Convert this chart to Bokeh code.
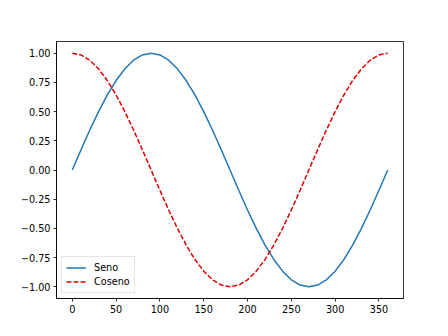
from bokeh.plotting import figure
from bokeh.models import FixedTicker, Range1d, Legend, LegendItem
from bokeh.embed import file_html
from bokeh.resources import INLINE

grados = list(range(0, 361, 10))
seno = [0.0, 0.1736, 0.3420, 0.5000, 0.6428, 0.7660, 0.8660, 0.9397, 0.9848, 1.0000,
        0.9848, 0.9397, 0.8660, 0.7660, 0.6428, 0.5000, 0.3420, 0.1736, 0.0,
        -0.1736, -0.3420, -0.5000, -0.6428, -0.7660, -0.8660, -0.9397, -0.9848, -1.0000,
        -0.9848, -0.9397, -0.8660, -0.7660, -0.6428, -0.5000, -0.3420, -0.1736, 0.0]
coseno = [1.0, 0.9848, 0.9397, 0.8660, 0.7660, 0.6428, 0.5000, 0.3420, 0.1736, 0.0,
          -0.1736, -0.3420, -0.5000, -0.6428, -0.7660, -0.8660, -0.9397, -0.9848, -1.0,
          -0.9848, -0.9397, -0.8660, -0.7660, -0.6428, -0.5000, -0.3420, -0.1736, 0.0,
          0.1736, 0.3420, 0.5000, 0.6428, 0.7660, 0.8660, 0.9397, 0.9848, 1.0]
x_ticks = [0, 50, 100, 150, 200, 250, 300, 350]
y_ticks = [-1.0, -0.75, -0.5, -0.25, 0.0, 0.25, 0.5, 0.75, 1.0]
y_labels = ["\u22121.00", "\u22120.75", "\u22120.50", "\u22120.25", "0.00", "0.25", "0.50", "0.75", "1.00"]

p = figure(width=448, height=336, output_backend="svg", toolbar_location=None,
           x_range=Range1d(-18, 378), y_range=Range1d(-1.1, 1.1),
           min_border_left=56, min_border_right=45, min_border_top=41, min_border_bottom=38)
p.background_fill_color = "white"
p.border_fill_color = "white"
p.grid.visible = False
p.outline_line_color = "black"
p.outline_line_width = 0.8

for ax in (p.xaxis[0], p.yaxis[0]):
    ax.major_label_text_font = "DejaVu Sans"
    ax.major_label_text_font_size = "9.7px"
    ax.major_label_text_color = "black"
    ax.major_tick_out = 3
    ax.major_tick_in = 0
    ax.minor_tick_out = 0
    ax.minor_tick_in = 0
    ax.axis_line_width = 0.8
    ax.major_tick_line_width = 0.8
    ax.major_label_standoff = 3

p.xaxis.ticker = FixedTicker(ticks=x_ticks)
p.yaxis.ticker = FixedTicker(ticks=y_ticks)
p.yaxis.major_label_overrides = {t: l for t, l in zip(y_ticks, y_labels)}

r1 = p.line(grados, seno, line_color="#1f77b4", line_width=1.5)
r2 = p.line(grados, coseno, line_color="#e00000", line_width=1.5, line_dash="5 2")

legend = Legend(items=[LegendItem(label="Seno", renderers=[r1]),
                       LegendItem(label="Coseno", renderers=[r2])],
                location="bottom_left")
legend.label_text_font = "DejaVu Sans"
legend.label_text_font_size = "9.7px"
legend.label_text_color = "black"
legend.label_height = 13
legend.glyph_height = 13
legend.glyph_width = 20
legend.label_standoff = 8
legend.spacing = 1
legend.padding = 4
legend.margin = 5
legend.border_line_color = "#cccccc"
legend.border_line_width = 0.8
legend.background_fill_alpha = 0.8
p.add_layout(legend)

open("out.html", "w").write(file_html(p, INLINE))
